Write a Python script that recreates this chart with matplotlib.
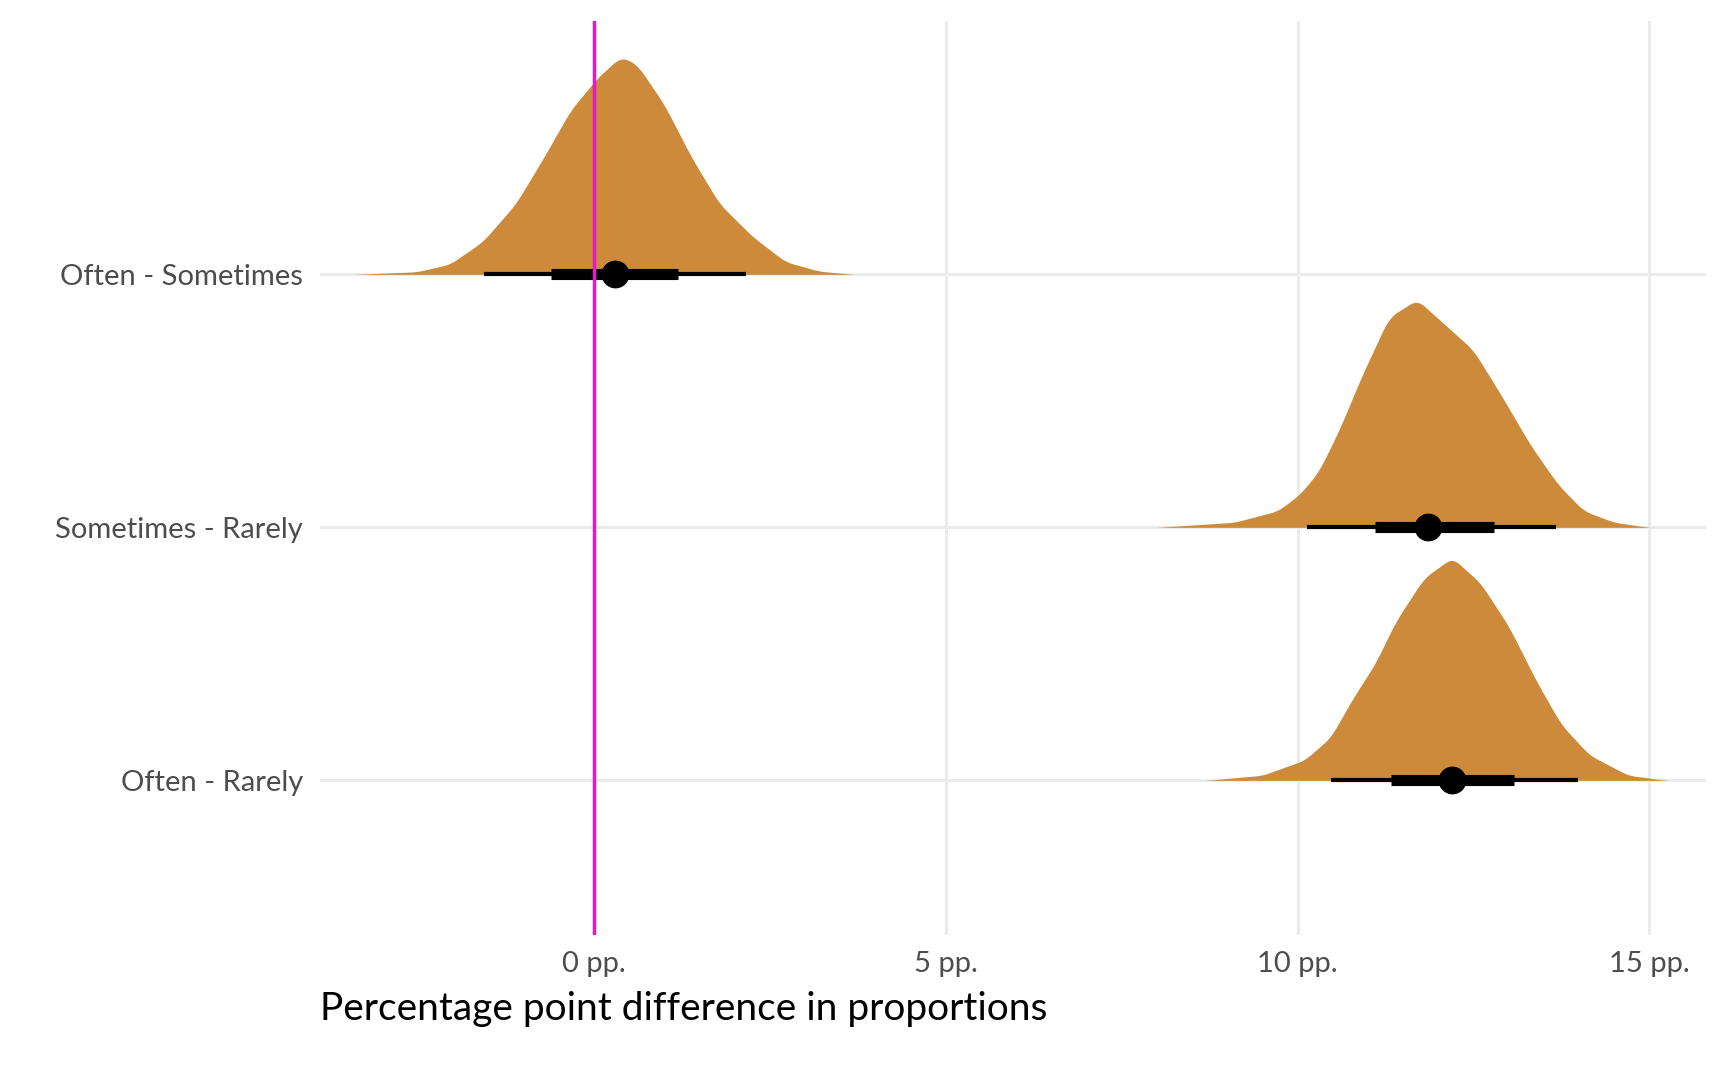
import matplotlib.pyplot as plt
import numpy as np

plt.rcParams['font.family'] = ['Lato', 'DejaVu Sans']

labels = ["Often - Rarely", "Sometimes - Rarely", "Often - Sometimes"]

# density outlines (x in pp., height in row units)
dens_x = [
    [8.7, 9.5, 10.1, 10.47, 10.8, 11.1, 11.4, 11.8, 12.2, 12.6, 13.0, 13.4, 13.75, 14.15, 14.7, 15.25],
    [8.0, 9.1, 9.72, 10.03, 10.3, 10.6, 10.9, 11.3, 11.7, 12.1, 12.5, 12.9, 13.3, 13.7, 14.07, 14.5, 15.0],
    [-3.43, -2.52, -2.05, -1.58, -1.11, -0.72, -0.33, 0.06, 0.38, 0.61, 1.0, 1.39, 1.78, 2.25, 2.72, 3.19, 3.68],
]
dens_h = [
    [0, 0.02, 0.08, 0.17, 0.33, 0.46, 0.63, 0.80, 0.88, 0.78, 0.61, 0.39, 0.22, 0.10, 0.02, 0],
    [0, 0.02, 0.065, 0.13, 0.22, 0.39, 0.59, 0.83, 0.90, 0.80, 0.70, 0.52, 0.33, 0.17, 0.065, 0.02, 0],
    [0, 0.01, 0.04, 0.13, 0.28, 0.46, 0.65, 0.78, 0.86, 0.83, 0.67, 0.46, 0.28, 0.15, 0.05, 0.013, 0],
]
medians = [12.2, 11.86, 0.30]
thick_lo = [11.33, 11.1, -0.61]
thick_hi = [13.08, 12.79, 1.19]
thin_lo = [10.47, 10.13, -1.56]
thin_hi = [13.99, 13.68, 2.16]

fig = plt.figure(figsize=(17.28, 10.67), dpi=100)
ax = fig.add_axes([0.185, 0.124, 0.802, 0.856])

for i in range(3):
    xs = np.array(dens_x[i])
    hs = np.array(dens_h[i])
    xf = np.linspace(xs[0], xs[-1], 300)
    hf = np.interp(xf, xs, hs)
    # light smoothing of the piecewise outline
    k = np.ones(9) / 9
    hf = np.convolve(np.pad(hf, 4, mode='edge'), k, mode='valid')
    ax.fill_between(xf, i, i + hf, color='#cc8a3a', lw=0, zorder=2)
    ax.plot([thin_lo[i], thin_hi[i]], [i, i], color='black', lw=3, zorder=3, solid_capstyle='butt')
    ax.plot([thick_lo[i], thick_hi[i]], [i, i], color='black', lw=8, zorder=3, solid_capstyle='butt')
    ax.plot(medians[i], i, 'o', color='black', ms=19, zorder=4)

ax.axvline(0, color='#e619c8', lw=2.5, zorder=5)

ax.set_xlim(-3.9, 15.8)
ax.set_ylim(-0.61, 3.0)
ax.set_xticks([0, 5, 10, 15])
ax.set_xticklabels(["0 pp.", "5 pp.", "10 pp.", "15 pp."])
ax.set_yticks([0, 1, 2])
ax.set_yticklabels(labels)
ax.grid(True, color='#ebebeb', lw=2.2, zorder=0)
ax.set_axisbelow(True)
for s in ax.spines.values():
    s.set_visible(False)
ax.tick_params(length=0, labelsize=21, labelcolor='#4d4d4d', pad=12)
ax.set_xlabel("Percentage point difference in proportions", fontsize=28, loc='left', labelpad=10)

fig.savefig("out.png", dpi=100)
